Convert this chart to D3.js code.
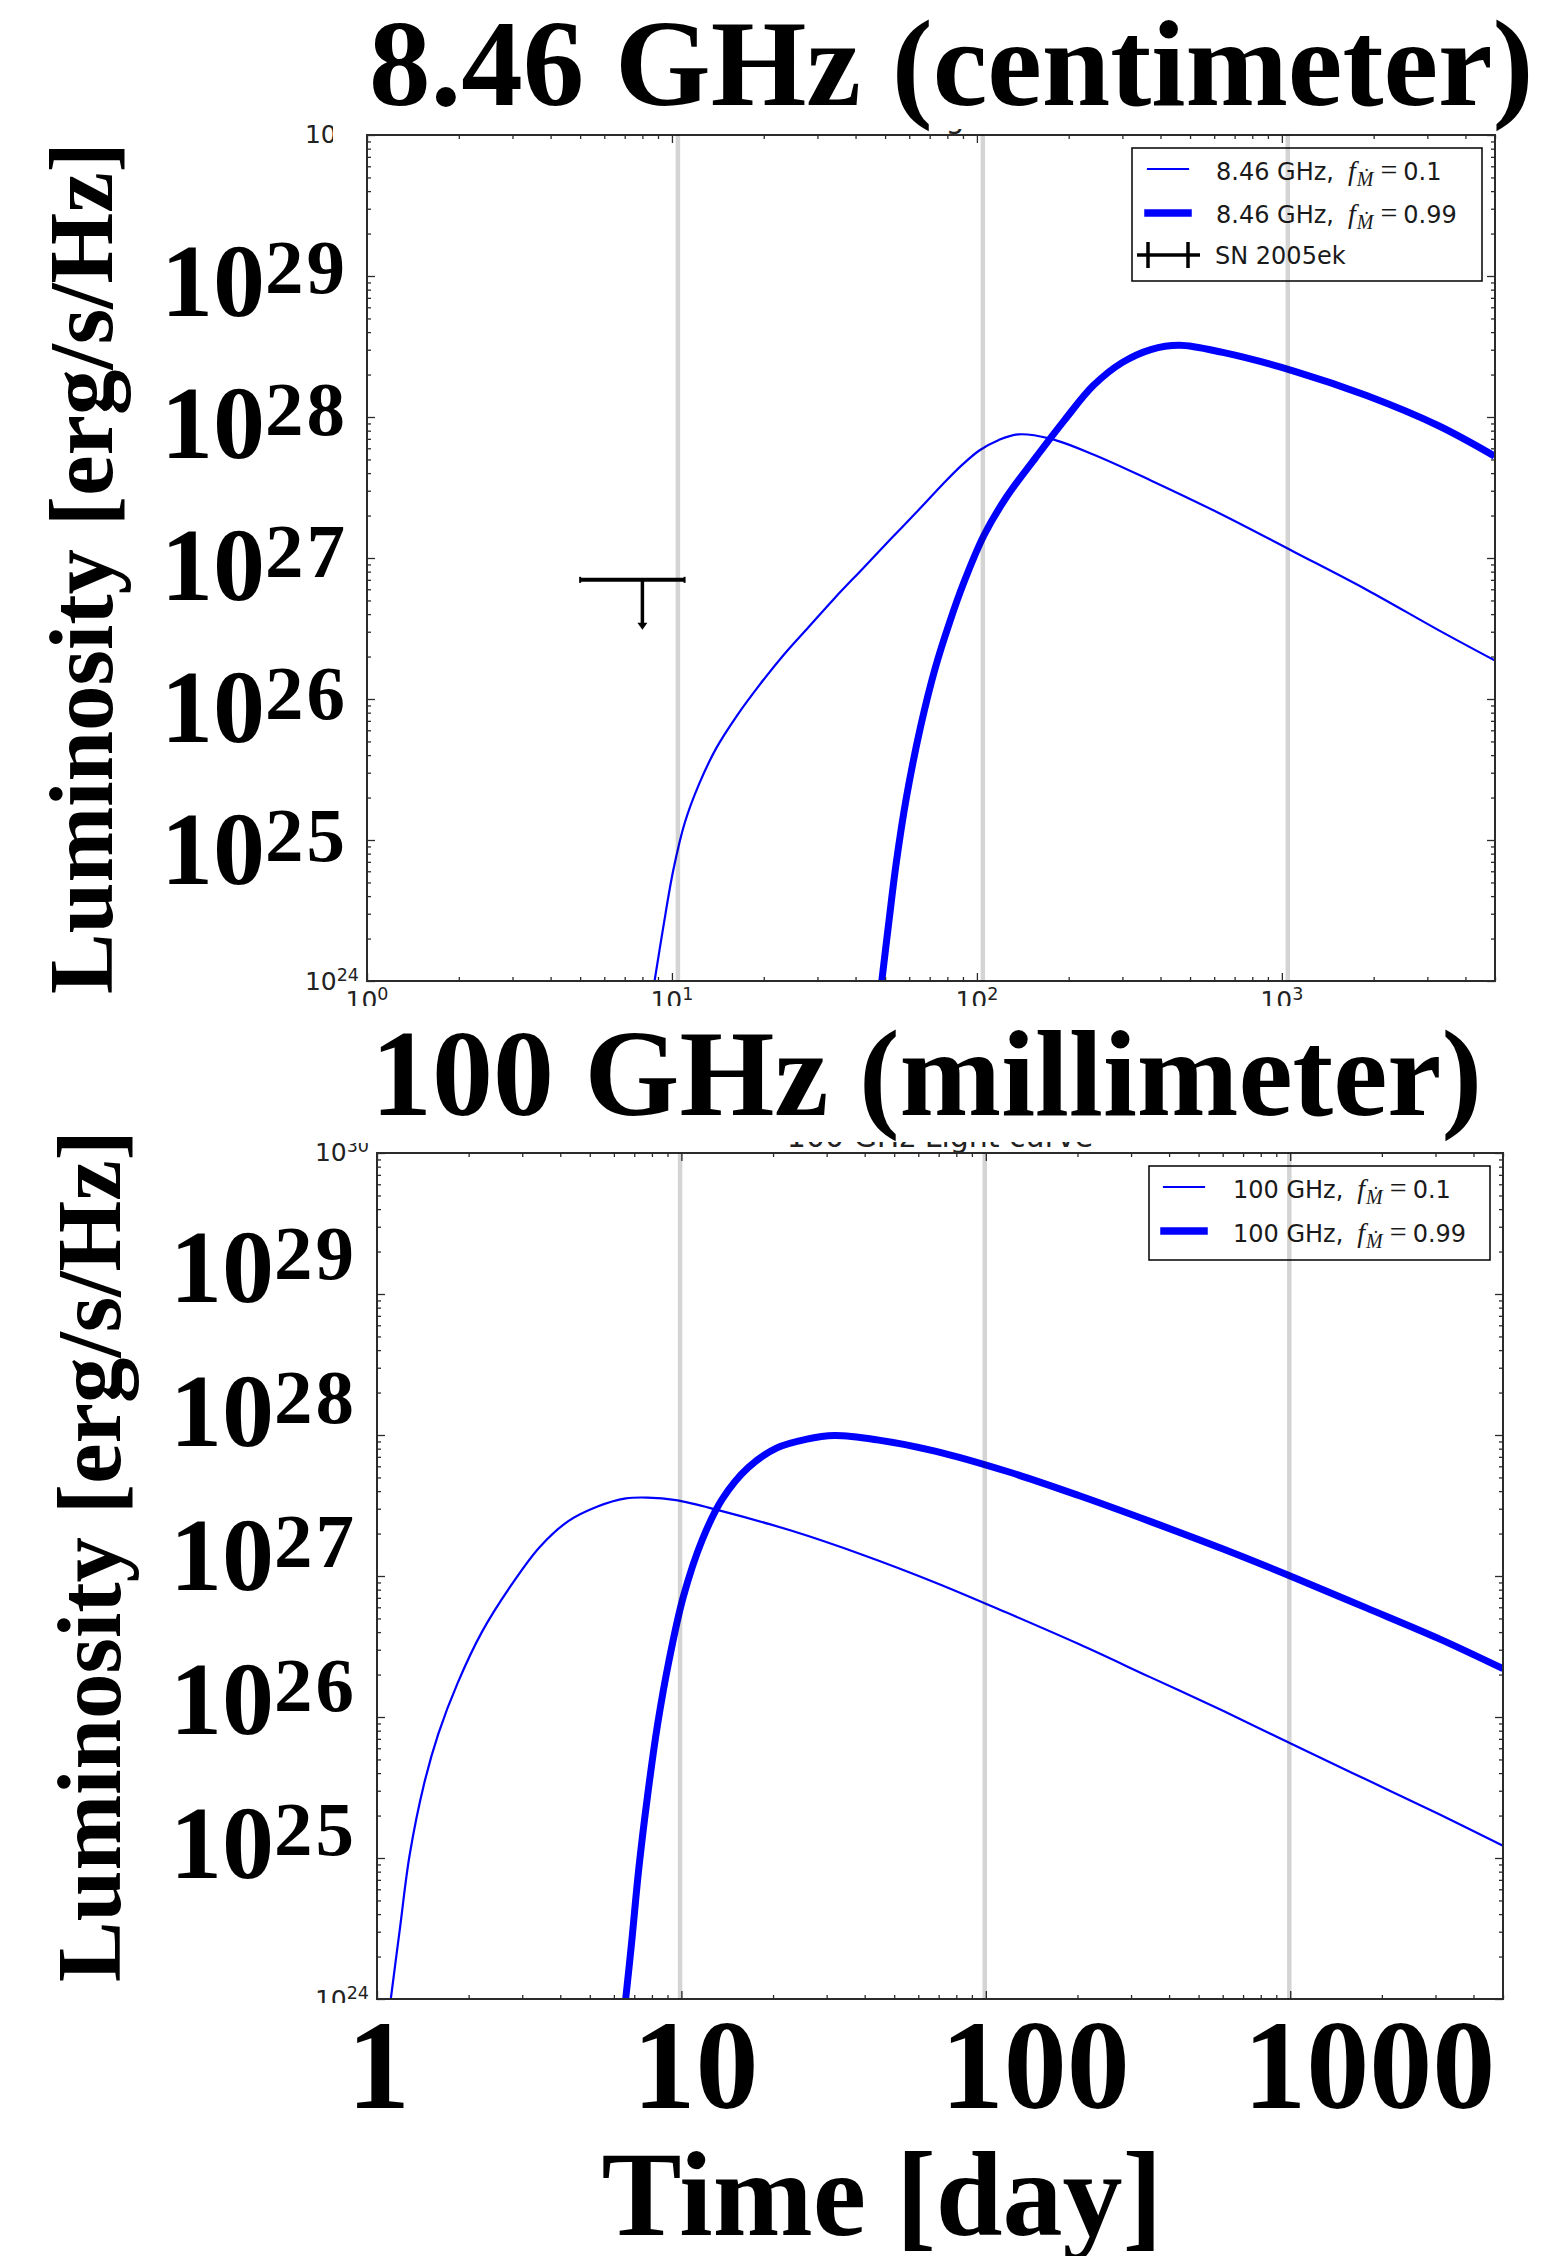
<!DOCTYPE html>
<html><head><meta charset="utf-8">
<script src="https://cdn.jsdelivr.net/npm/d3@7"></script>
<style>body{margin:0;background:#fff}svg{display:block}</style>
</head><body>
<svg id="c" width="1542" height="2256"></svg>
<script>
// ---------------- DATA ----------------
// 8.46 GHz panel
const cm_thin_t = [8.77, 9.36, 10.10, 11.01, 12.28, 13.99, 16.28, 19.38, 23.31, 28.03, 34.09, 42.36, 52.62, 65.40, 77.81, 89.63, 102.1, 117.6, 136.9, 173.9, 240.8, 371.8, 640.1, 1102, 1896, 3264, 4984];
const cm_thin_L = [1.00e24, 2.39e24, 6.10e24, 1.32e25, 2.50e25, 4.50e25, 7.54e25, 1.26e26, 2.07e26, 3.23e26, 5.17e26, 8.47e26, 1.39e27, 2.27e27, 3.39e27, 4.59e27, 5.81e27, 6.85e27, 7.53e27, 7.02e27, 5.42e27, 3.55e27, 2.02e27, 1.10e27, 5.96e26, 3.08e26, 1.88e26];
const cm_thick_t = [48.77, 51.50, 54.38, 58.67, 65.40, 72.90, 81.27, 90.6, 105.5, 125.5, 155.9, 193.8, 240.8, 299.2, 371.8, 461.9, 640.1, 1102, 1896, 3264, 4984];
const cm_thick_L = [1.00e24, 2.68e24, 6.86e24, 1.98e25, 6.40e25, 1.64e26, 3.47e26, 6.70e26, 1.45e27, 2.74e27, 5.16e27, 9.51e27, 1.67e28, 2.43e28, 3.01e28, 3.23e28, 2.87e28, 2.11e28, 1.42e28, 8.67e27, 5.28e27];
// SN 2005ek upper limit
const sn_t = 8.0, sn_tLow = 5.0, sn_tHigh = 11.0, sn_L = 7.0e26, sn_Larrow = 3.1e26;
// 100 GHz panel
const mm_thin_t = [1.11, 1.19, 1.28, 1.43, 1.59, 1.84, 2.21, 2.75, 3.42, 4.25, 5.28, 6.57, 7.73, 9.6, 13.3, 22.9, 39.5, 68.1, 117, 202, 348, 599, 1032, 1778, 3063, 5000];
const mm_thin_L = [1.00e24, 3.2e24, 1.05e25, 3.4e25, 7.6e25, 1.74e26, 4.0e26, 8.5e26, 1.6e27, 2.45e27, 3.1e27, 3.55e27, 3.6e27, 3.45e27, 2.92e27, 2.10e27, 1.41e27, 9.0e26, 5.5e26, 3.29e26, 1.91e26, 1.11e26, 6.3e25, 3.6e25, 2.06e25, 1.22e25];
const mm_thick_t = [6.56, 6.86, 7.24, 7.73, 8.34, 9.10, 10.14, 11.7, 13.6, 16.6, 20.6, 25.6, 31.8, 44.0, 68.1, 117, 202, 348, 599, 1032, 1778, 3063, 5000];
const mm_thick_L = [1.00e24, 2.5e24, 8.3e24, 2.7e25, 8.7e25, 2.5e26, 7.1e26, 1.8e27, 3.5e27, 5.9e27, 8.1e27, 9.3e27, 9.91e27, 9.23e27, 7.69e27, 5.53e27, 3.72e27, 2.43e27, 1.56e27, 9.73e26, 5.94e26, 3.61e26, 2.20e26];
// axes / ticks / labels
const xDomain = [1, 5000];
const yDomain = [1e24, 1e30];
const xMajor = [1, 10, 100, 1000];
const yMajor = [1e24, 1e25, 1e26, 1e27, 1e28, 1e29, 1e30];
const yBigExps = ["29", "28", "27", "26", "25"];
const xBigLabels = ["1", "10", "100", "1000"];
const xBigValues = [1, 10, 100, 1000];
const cm_grid = [10.46, 104.6, 1046];
const mm_grid = [9.9, 99.2, 993];
const titles = ["8.46 GHz (centimeter)", "100 GHz (millimeter)"];
const smallTitles = ["8.46 GHz Light curve", "100 GHz Light curve"];
const yLabel = "Luminosity [erg/s/Hz]";
const xLabel = "Time [day]";
const legendFreq = ["8.46", "100"];
const legendF = ["0.1", "0.99"];
const snLabel = "SN 2005ek";

// ---------------- DRAW ----------------
const svg = d3.select("#c");
const defs = svg.append("defs");
const BLUE = "#0000ff";
const SPINE = "#2b2b2b";
const SERIF = "'Liberation Serif','Times New Roman',serif";
const SANS = "'DejaVu Sans',sans-serif";
const MATH = "'Liberation Serif','DejaVu Serif',serif";

const zip = (a, b) => a.map((v, i) => [v, b[i]]);

function minorOf(majors, max) {
  const out = [];
  majors.forEach(m => { for (let k = 2; k <= 9; k++) if (k * m <= max) out.push(k * m); });
  return out;
}

function clipRect(id, x, y, w, h) {
  defs.append("clipPath").attr("id", id).append("rect").attr("x", x).attr("y", y).attr("width", w).attr("height", h);
  return `url(#${id})`;
}

function sciText(g, x, y, exp, anchor) {
  const t = g.append("text").attr("x", x).attr("y", y).attr("text-anchor", anchor)
    .attr("font-family", SANS).attr("font-size", 25).attr("fill", "#222");
  t.append("tspan").text("10");
  t.append("tspan").attr("font-size", 17.5).attr("dy", -9).text(exp);
  return t;
}

function legendText(g, x, y, freq, f) {
  const t = g.append("text").attr("x", x).attr("y", y).attr("font-family", SANS).attr("font-size", 24).attr("fill", "#1a1a1a");
  t.append("tspan").text(freq + " GHz,");
  t.append("tspan").attr("font-family", MATH).attr("font-style", "italic").attr("font-size", 28).attr("dx", 14).text("f");
  t.append("tspan").attr("font-family", MATH).attr("font-style", "italic").attr("font-size", 20).attr("dy", 6).attr("dx", 1).text("Ṁ");
  t.append("tspan").attr("font-family", MATH).attr("font-size", 30).attr("dy", -6).attr("dx", 7).text("=");
  t.append("tspan").attr("dx", 6).text(f);
}

function panel(idx, box, thin, thick, opts) {
  const g = svg.append("g");
  const x = d3.scaleLog().domain(xDomain).range([box.l, box.r]);
  const y = d3.scaleLog().domain(yDomain).range([box.b, box.t]);
  const xMinor = minorOf(xMajor, xDomain[1]);
  const yMinor = minorOf(yMajor.slice(0, -1), yDomain[1]);

  // small matplotlib title (mostly hidden by the big overlay title)
  g.append("text").attr("x", (box.l + box.r) / 2).attr("y", opts.titleY).attr("text-anchor", "middle")
    .attr("font-family", SANS).attr("font-size", 30).attr("fill", "#222")
    .attr("clip-path", clipRect("tc" + idx, 0, opts.titleClip, 1542, 40)).text(smallTitles[idx]);

  // curves
  const cp = clipRect("pc" + idx, box.l, box.t, box.r - box.l, box.b - box.t);
  const line = d3.line().x(d => x(d[0])).y(d => y(d[1])).curve(d3.curveCatmullRom.alpha(0.5));
  const cg = g.append("g").attr("clip-path", cp);
  cg.append("path").attr("d", line(thin)).attr("fill", "none").attr("stroke", BLUE).attr("stroke-width", 2.2);
  cg.append("path").attr("d", line(thick)).attr("fill", "none").attr("stroke", BLUE).attr("stroke-width", 7);

  // ticks (inward, all four sides)
  const tk = g.append("g");
  const addAxis = (axis, tr, vals, size) => {
    const a = tk.append("g").attr("transform", tr).call(axis.tickValues(vals).tickSize(size).tickFormat(""));
    a.select(".domain").remove();
    a.selectAll("line").attr("stroke", SPINE).attr("stroke-width", 1.3);
  };
  addAxis(d3.axisBottom(x), `translate(0,${box.b})`, xMajor, -8);
  addAxis(d3.axisBottom(x), `translate(0,${box.b})`, xMinor, -4);
  addAxis(d3.axisTop(x), `translate(0,${box.t})`, xMajor, -8);
  addAxis(d3.axisTop(x), `translate(0,${box.t})`, xMinor, -4);
  addAxis(d3.axisLeft(y), `translate(${box.l},0)`, yMajor, -8);
  addAxis(d3.axisLeft(y), `translate(${box.l},0)`, yMinor, -4);
  addAxis(d3.axisRight(y), `translate(${box.r},0)`, yMajor, -8);
  addAxis(d3.axisRight(y), `translate(${box.r},0)`, yMinor, -4);

  // spines
  g.append("rect").attr("x", box.l).attr("y", box.t).attr("width", box.r - box.l).attr("height", box.b - box.t)
    .attr("fill", "none").attr("stroke", SPINE).attr("stroke-width", 2);

  // small tick labels that remain visible under the overlay
  sciText(g, box.l - 8, y(1e30) + 8, "30", "end").attr("clip-path", clipRect("yt" + idx, 0, opts.topLabClipY, opts.topLabClipX, 60));
  sciText(g, box.l - 8, y(1e24) + 9, "24", "end").attr("clip-path", clipRect("yb" + idx, 0, box.b - 40, 400, opts.botLabClip - (box.b - 40)));
  if (opts.xLabels) {
    const xc = clipRect("xl" + idx, 0, box.b, 1542, opts.xLabClip - box.b);
    xMajor.forEach((v, i) => sciText(g, x(v), box.b + 28, String(i), "middle").attr("clip-path", xc));
  }
  return { g, x, y, box };
}

// ---- top panel ----
const A = panel(0, { l: 367, r: 1495, t: 135, b: 981 }, zip(cm_thin_t, cm_thin_L), zip(cm_thick_t, cm_thick_L),
  { titleY: 128, titleClip: 129, topLabClipY: 110, topLabClipX: 333, botLabClip: 1000, xLabels: true, xLabClip: 1006 });

// SN 2005ek upper limit
{
  const { g, x, y } = A;
  const yy = y(sn_L), cx = x(sn_t), ya = y(sn_Larrow);
  g.append("line").attr("x1", x(sn_tLow)).attr("x2", x(sn_tHigh)).attr("y1", yy).attr("y2", yy).attr("stroke", "#000").attr("stroke-width", 4);
  [sn_tLow, sn_tHigh].forEach(v => g.append("line").attr("x1", x(v)).attr("x2", x(v)).attr("y1", yy - 3).attr("y2", yy + 3).attr("stroke", "#000").attr("stroke-width", 2));
  g.append("line").attr("x1", cx).attr("x2", cx).attr("y1", yy).attr("y2", ya - 5).attr("stroke", "#000").attr("stroke-width", 3.5);
  g.append("path").attr("d", `M${cx - 5},${ya - 7}L${cx + 5},${ya - 7}L${cx},${ya}Z`).attr("fill", "#000");
}

// top legend
{
  const g = A.g;
  g.append("rect").attr("x", 1132).attr("y", 148).attr("width", 350).attr("height", 133).attr("fill", "#fff").attr("stroke", "#000").attr("stroke-width", 1.5);
  g.append("line").attr("x1", 1148).attr("x2", 1188).attr("y1", 169).attr("y2", 169).attr("stroke", BLUE).attr("stroke-width", 2.2).attr("stroke-linecap", "square");
  g.append("line").attr("x1", 1148).attr("x2", 1188).attr("y1", 213).attr("y2", 213).attr("stroke", BLUE).attr("stroke-width", 7.5).attr("stroke-linecap", "square");
  g.append("line").attr("x1", 1137).attr("x2", 1200).attr("y1", 255).attr("y2", 255).attr("stroke", "#000").attr("stroke-width", 3.5);
  [1148, 1188].forEach(v => g.append("line").attr("x1", v).attr("x2", v).attr("y1", 242).attr("y2", 268).attr("stroke", "#000").attr("stroke-width", 3.5));
  legendText(g, 1216, 180, legendFreq[0], legendF[0]);
  legendText(g, 1216, 223, legendFreq[0], legendF[1]);
  g.append("text").attr("x", 1215).attr("y", 264).attr("font-family", SANS).attr("font-size", 24).attr("fill", "#1a1a1a").text(snLabel);
}

// ---- bottom panel ----
const B = panel(1, { l: 377, r: 1503, t: 1153, b: 1999 }, zip(mm_thin_t, mm_thin_L), zip(mm_thick_t, mm_thick_L),
  { titleY: 1147, titleClip: 1142, topLabClipY: 1143, topLabClipX: 400, botLabClip: 2003, xLabels: false });

// bottom legend
{
  const g = B.g;
  g.append("rect").attr("x", 1149).attr("y", 1166).attr("width", 341).attr("height", 94).attr("fill", "#fff").attr("stroke", "#000").attr("stroke-width", 1.5);
  g.append("line").attr("x1", 1164).attr("x2", 1204).attr("y1", 1187).attr("y2", 1187).attr("stroke", BLUE).attr("stroke-width", 2.2).attr("stroke-linecap", "square");
  g.append("line").attr("x1", 1164).attr("x2", 1204).attr("y1", 1231).attr("y2", 1231).attr("stroke", BLUE).attr("stroke-width", 7.5).attr("stroke-linecap", "square");
  legendText(g, 1233, 1198, legendFreq[1], legendF[0]);
  legendText(g, 1233, 1242, legendFreq[1], legendF[1]);
}

// grey vertical guide lines (drawn on top, translucent)
[[A, cm_grid], [B, mm_grid]].forEach(([P, gr]) => {
  P.g.selectAll(null).data(gr).enter().append("line")
    .attr("x1", d => P.x(d)).attr("x2", d => P.x(d)).attr("y1", P.box.t).attr("y2", P.box.b)
    .attr("stroke", "#000").attr("stroke-opacity", 0.17).attr("stroke-width", 4.5);
});

// ---------------- BIG OVERLAY TEXT ----------------
const big = svg.append("g").attr("font-family", SERIF).attr("font-weight", "bold").attr("fill", "#000");
big.append("text").attr("x", 369).attr("y", 105).attr("font-size", 123).text(titles[0]);
big.append("text").attr("x", 371).attr("y", 1115).attr("font-size", 122).text(titles[1]);

big.append("text").attr("transform", "translate(112,568) rotate(-90)").attr("text-anchor", "middle").attr("font-size", 91).text(yLabel);
big.append("text").attr("transform", "translate(120,1556) rotate(-90)").attr("text-anchor", "middle").attr("font-size", 91).text(yLabel);

function bigSci(xr, yb, exp) {
  const t = big.append("text").attr("x", xr).attr("y", yb).attr("text-anchor", "end").attr("font-size", 104);
  t.append("tspan").text("10");
  t.append("tspan").attr("font-size", 77).attr("letter-spacing", 3).attr("dy", -23).text(exp);
}
yBigExps.forEach(e => bigSci(348, A.y(Math.pow(10, +e)) + 40 + (29 - e) * 1, e));
yBigExps.forEach(e => bigSci(357, B.y(Math.pow(10, +e)) + 8 + (29 - e) * 3, e));

const bigXShift = [-30, -49, -45, -47];
xBigLabels.forEach((s, i) => big.append("text").attr("x", B.x(xBigValues[i]) + bigXShift[i]).attr("y", 2108).attr("font-size", 126).text(s));

big.append("text").attr("x", 882).attr("y", 2235).attr("text-anchor", "middle").attr("font-size", 120).text(xLabel);
</script>
</body></html>
